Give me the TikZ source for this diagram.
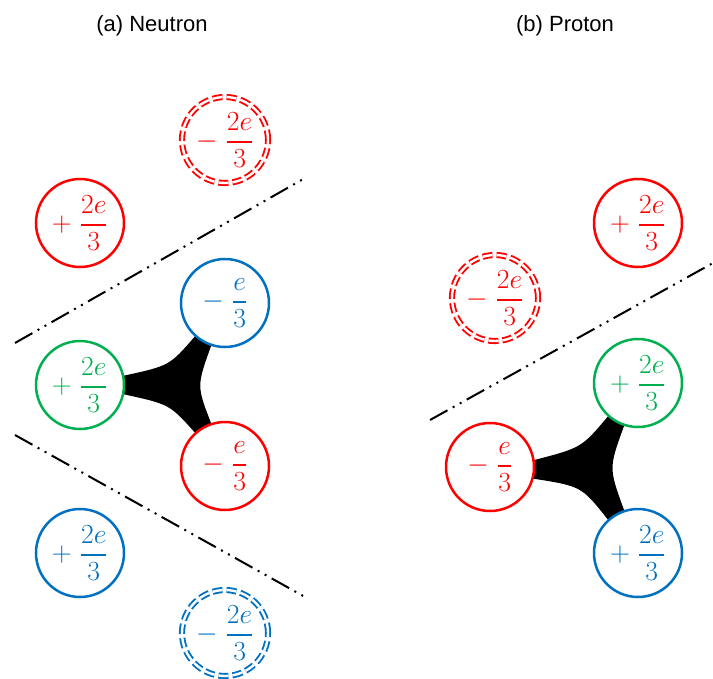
\documentclass[tikz,border=0pt]{standalone}
\usepackage{fontspec}
\usepackage{amsmath}
\newfontfamily\titlefont{Liberation Sans}
\usetikzlibrary{backgrounds}
\definecolor{qred}{HTML}{FF0000}
\definecolor{qgreen}{HTML}{00B050}
\definecolor{qblue}{HTML}{0070C0}
\newcommand\qf[2]{\genfrac{}{}{1.5pt}{0}{#1}{#2}}
\newcommand\qplus[1]{$+\;\qf{#1}{3}$}
\newcommand\qminus[1]{$-\;\qf{#1}{3}$}
\tikzset{
  quark/.style={circle, draw=#1, text=#1, fill=white, line width=1.875pt,
    minimum size=66pt, inner sep=0pt, font=\fontsize{21}{25}\selectfont},
  ghost/.style={circle, draw=#1, text=#1, line width=1.4pt, double=white,
    double distance=1.8pt, dash pattern=on 7.5pt off 3pt,
    minimum size=64.5pt, inner sep=0pt, font=\fontsize{21}{25}\selectfont},
  cut/.style={line width=1.5pt,
    dash pattern=on 15pt off 4.5pt on 1.5pt off 4.5pt on 1.5pt off 4.5pt},
  gluon/.style={fill=black},
  title/.style={font=\titlefont\fontsize{16.5}{20}\selectfont}
}
\begin{document}
\begin{tikzpicture}[x=0.75pt, y=-0.75pt]
\useasboundingbox (0,0) rectangle (713,678);
% titles
\node[title] (ta) at (152,26) {(a) Neutron};
\node[title] (tb) at (565,26) {(b) Proton};
% separator anchors
\coordinate (a1s) at (15,343);  \coordinate (a1e) at (305,178);
\coordinate (a2s) at (15,435);  \coordinate (a2e) at (305,597);
\coordinate (b1s) at (430,420); \coordinate (b1e) at (713,263);
\draw[cut] (a1s) -- (a1e);
\draw[cut] (a2s) -- (a2e);
\draw[cut] (b1s) -- (b1e);
% (a) neutron
\node[quark=qred]   (nr1) at (80,223)  {\qplus{2e}};
\node[ghost=qred]   (nrg) at (225,140) {\qminus{2e}};
\node[quark=qblue]  (nb)  at (225,303) {\qminus{e}};
\node[quark=qgreen] (ng)  at (80,385)  {\qplus{2e}};
\node[quark=qred]   (nr)  at (225,466) {\qminus{e}};
\node[quark=qblue]  (nb2) at (80,553)  {\qplus{2e}};
\node[ghost=qblue]  (nbg) at (225,633) {\qminus{2e}};
% (b) proton
\node[quark=qred]   (pr1) at (638,223) {\qplus{2e}};
\node[ghost=qred]   (prg) at (495,298) {\qminus{2e}};
\node[quark=qgreen] (pg)  at (638,383) {\qplus{2e}};
\node[quark=qred]   (pr)  at (490,467) {\qminus{e}};
\node[quark=qblue]  (pb)  at (638,553) {\qplus{2e}};
\begin{pgfonlayer}{background}
\fill[gluon] (ng.center) -- (ng.12) .. controls (169.5,365.7) .. (nb.228)
  -- (nb.center) -- (nb.252) .. controls (196.7,386) .. (nr.108)
  -- (nr.center) -- (nr.132) .. controls (169.5,404.3) .. (ng.-12) -- cycle;
\fill[gluon] (pr.center) -- (pr.9) .. controls (581.5,447.7) .. (pg.228)
  -- (pg.center) -- (pg.252) .. controls (608.7,468) .. (pb.108)
  -- (pb.center) -- (pb.132) .. controls (581.5,486.3) .. (pr.-15) -- cycle;
\end{pgfonlayer}
\end{tikzpicture}
\end{document}
